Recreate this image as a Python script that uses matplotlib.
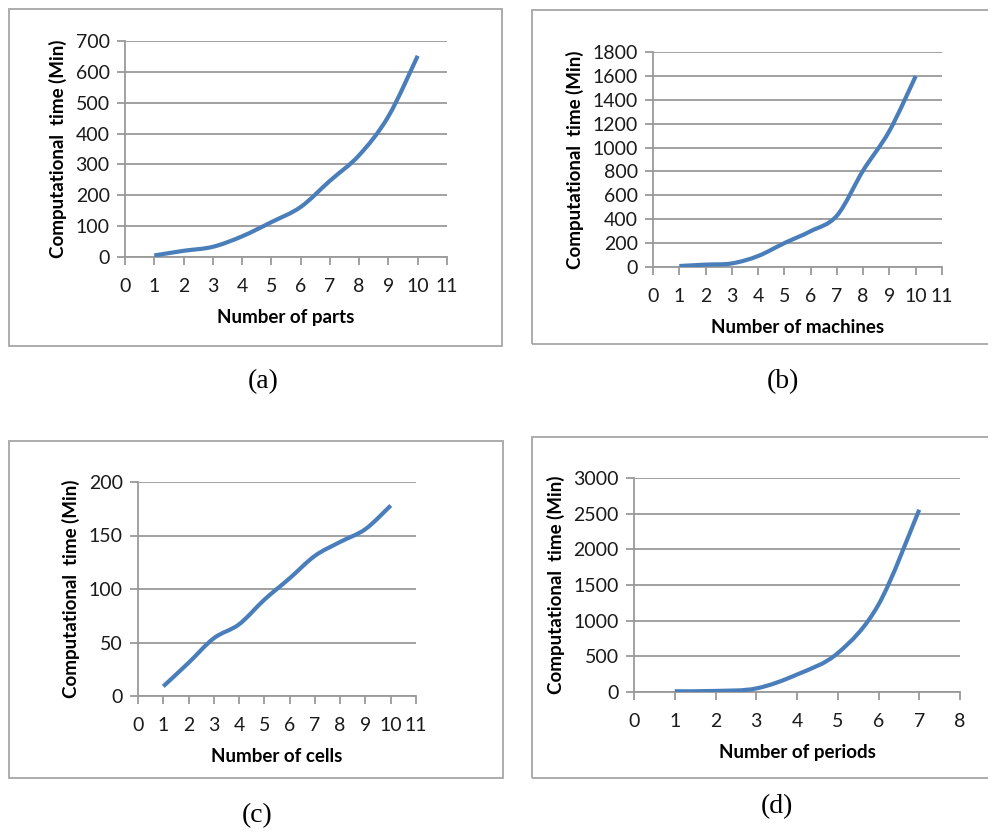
import matplotlib
matplotlib.use("Agg")
from matplotlib import pyplot as plt
from matplotlib.patches import Rectangle, PathPatch
from matplotlib.path import Path

# data
parts_x = [1, 2, 3, 4, 5, 6, 7, 8, 9, 10]
parts_y = [5, 20, 33, 67, 113, 162, 247, 330, 456, 652]

machines_x = [1, 2, 3, 4, 5, 6, 7, 8, 9, 10]
machines_y = [8, 20, 30, 92, 200, 300, 430, 809, 1140, 1598]

cells_x = [1, 2, 3, 4, 5, 6, 7, 8, 9, 10]
cells_y = [9, 31, 54, 67, 90, 110, 131, 144, 156, 178]

periods_x = [1, 2, 3, 4, 5, 6, 7]
periods_y = [10, 15, 50, 245, 545, 1225, 2555]

W, H = 988, 832
fig = plt.figure(figsize=(W / 100, H / 100), dpi=100)

line_color = "#4A7EBB"
grid_color = "#9a9a9a"
box_color = "#a6a6a6"
tick_font = "Lato"


def fx(px):
    return px / W


def fy(py):
    return 1 - py / H


def box(x0, y0, x1, y1):
    # grey frame around each chart, given in pixels
    fig.add_artist(Rectangle((fx(x0), fy(y1)), fx(x1 - x0), (y1 - y0) / H,
                             transform=fig.transFigure, fill=False,
                             edgecolor=box_color, linewidth=1.3))


def smooth_path(x, y):
    # Excel style "smoothed line": cubic Bezier through every data point
    n = len(x)
    verts = [(x[0], y[0])]
    codes = [Path.MOVETO]
    for i in range(n - 1):
        x0, y0 = x[max(i - 1, 0)], y[max(i - 1, 0)]
        x3, y3 = x[min(i + 2, n - 1)], y[min(i + 2, n - 1)]
        c1 = (x[i] + (x[i + 1] - x0) / 6, y[i] + (y[i + 1] - y0) / 6)
        c2 = (x[i + 1] - (x3 - x[i]) / 6, y[i + 1] - (y3 - y[i]) / 6)
        verts += [c1, c2, (x[i + 1], y[i + 1])]
        codes += [Path.CURVE4] * 3
    return Path(verts, codes)


def panel(rect, x, y, xmax, ymax, ystep, xlabel, caption, cap_xy):
    l, t, r, b = rect
    ax = fig.add_axes([fx(l), fy(b), fx(r - l), (b - t) / H])
    ax.add_patch(PathPatch(smooth_path(x, y), fill=False, edgecolor=line_color,
                           linewidth=3.0, capstyle="butt", joinstyle="round",
                           zorder=3))
    ax.set_xlim(0, xmax)
    ax.set_ylim(0, ymax)
    ax.set_xticks(range(0, xmax + 1))
    ax.set_yticks(range(0, ymax + 1, ystep))
    ax.grid(axis="y", color=grid_color, linewidth=1.3)
    ax.set_axisbelow(True)
    for s in ["top", "right"]:
        ax.spines[s].set_visible(False)
    for s in ["left", "bottom"]:
        ax.spines[s].set_color(grid_color)
        ax.spines[s].set_linewidth(1.3)
    ax.tick_params(axis="both", colors=grid_color, length=6, width=1.3,
                   labelcolor="#1a1a1a", labelsize=14)
    ax.tick_params(axis="x", pad=9)
    ax.tick_params(axis="y", pad=5)
    for lab in ax.get_xticklabels() + ax.get_yticklabels():
        lab.set_fontfamily(tick_font)
    ax.set_xlabel(xlabel, fontsize=13.5, fontweight="bold", family=tick_font,
                  labelpad=10)
    ax.set_ylabel("Computational  time (Min)", fontsize=13.5, fontweight="bold",
                  family=tick_font, labelpad=6)
    fig.text(fx(cap_xy[0]), fy(cap_xy[1]), caption, ha="center", va="center",
             fontsize=20, family="Liberation Serif")
    return ax


box(9, 9, 502, 346)
box(532, 10, 995, 344)
box(9, 441, 503, 778)
box(532, 437, 995, 778)

panel((125, 41, 447, 257), parts_x, parts_y, 11, 700, 100,
      "Number of parts", "(a)", (263, 382))
panel((653, 52, 942, 267), machines_x, machines_y, 11, 1800, 200,
      "Number of machines", "(b)", (783, 382))
panel((138, 482, 416, 696), cells_x, cells_y, 11, 200, 50,
      "Number of cells", "(c)", (257, 816))
panel((634, 478, 960, 692), periods_x, periods_y, 8, 3000, 500,
      "Number of periods", "(d)", (777, 807))

fig.savefig("out.png", dpi=100, facecolor="white")
